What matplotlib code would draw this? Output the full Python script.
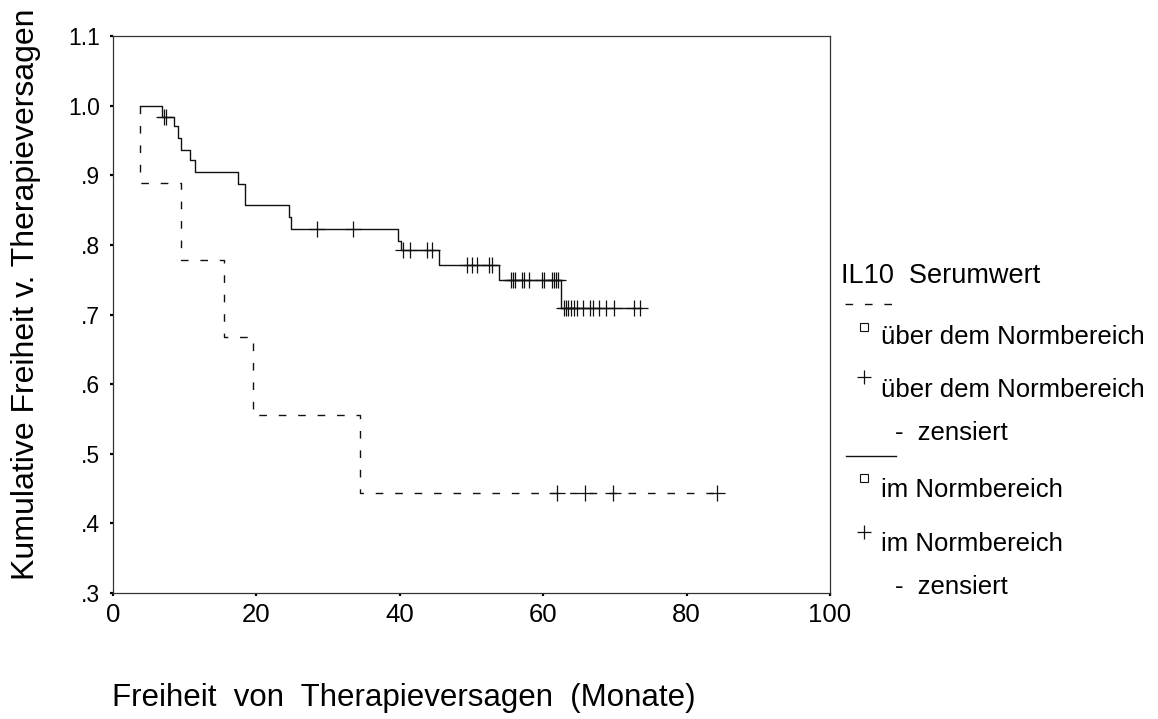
import numpy as np
import matplotlib
matplotlib.use("Agg")
import matplotlib.pyplot as plt
from matplotlib.lines import Line2D

plt.rcParams['font.family'] = ['Liberation Sans', 'DejaVu Sans']

# IL10 im Normbereich (solid): start, drop times, step values, censored times/levels
norm_start = 3.8
norm_drop_t = [6.8, 8.5, 9.1, 9.5, 10.8, 11.5, 17.5, 18.4, 24.5, 24.8,
               39.8, 40.1, 45.5, 53.8, 62.5]
norm_surv = [1.0, 0.984, 0.971, 0.953, 0.936, 0.922, 0.905, 0.888, 0.857,
             0.840, 0.823, 0.805, 0.792, 0.771, 0.750, 0.709]
norm_cens_t = [7.1, 7.4, 28.5, 33.5, 40.5, 41.4, 43.8, 44.5,
               49.4, 50.1, 50.8, 52.5, 52.8,
               55.5, 55.8, 56.1, 57.0, 57.3, 58.0, 59.8, 60.1, 61.2, 61.5, 61.8, 62.1,
               62.9, 63.2, 63.5, 63.9, 64.3, 64.7, 65.6, 66.5, 67.0, 67.8, 68.8,
               69.9, 72.6, 73.5]
norm_cens_s = [0.984, 0.984, 0.823, 0.823, 0.792, 0.792, 0.792, 0.792,
               0.771, 0.771, 0.771, 0.771, 0.771,
               0.750, 0.750, 0.750, 0.750, 0.750, 0.750, 0.750, 0.750, 0.750, 0.750, 0.750, 0.750,
               0.709, 0.709, 0.709, 0.709, 0.709, 0.709, 0.709, 0.709, 0.709, 0.709, 0.709,
               0.709, 0.709, 0.709]

# IL10 ueber dem Normbereich (dashed)
high_start = 3.8
high_drop_t = [3.8, 9.5, 15.5, 19.5, 34.4]
high_surv = [1.0, 0.889, 0.778, 0.667, 0.556, 0.444]
high_cens_t = [61.9, 65.8, 69.8, 84.2]
high_cens_s = [0.444, 0.444, 0.444, 0.444]

yticks = [0.3, 0.4, 0.5, 0.6, 0.7, 0.8, 0.9, 1.0, 1.1]
ytick_labels = ['.3', '.4', '.5', '.6', '.7', '.8', '.9', '1.0', '1.1']
xticks = [0, 20, 40, 60, 80, 100]

W, H = 1158, 719
fig = plt.figure(figsize=(W / 100, H / 100), dpi=100)
ax = fig.add_axes([113 / W, 1 - 593 / H, (830 - 113) / W, (593 - 36) / H])

DASH = (5.5, 8.5)
col = '#111111'

# solid curve
xs = [norm_start] + norm_drop_t + [norm_cens_t[-1]]
ys = norm_surv + [norm_surv[-1]]
ax.step(xs, ys, where='post', color=col, lw=1.0)
ax.plot(norm_cens_t, norm_cens_s, ls='none', marker='+', ms=11, mew=0.9, color=col)

# dashed curve
xs = [high_start] + high_drop_t + [high_cens_t[-1]]
ys = high_surv + [high_surv[-1]]
ax.step(xs, ys, where='post', color=col, lw=1.0, ls=(0, DASH))
ax.plot(high_cens_t, high_cens_s, ls='none', marker='+', ms=11, mew=0.9, color=col)

ax.set_xlim(0, 100)
ax.set_ylim(0.3, 1.1)
ax.set_xticks(xticks)
ax.set_xticklabels([str(v) for v in xticks])
ax.set_yticks(yticks)
ax.set_yticklabels(ytick_labels)
ax.tick_params(direction='out', length=2.5, width=1.6, color='black')
ax.tick_params(axis='y', pad=7, labelsize=16.5)
ax.tick_params(axis='x', pad=5, labelsize=18.5)
for s in ax.spines.values():
    s.set_linewidth(0.9)
    s.set_color('#333333')


def fx(px):
    return px / W


def fy(py):
    return 1 - py / H


fig.text(fx(26), fy(294), 'Kumulative Freiheit v. Therapieversagen', rotation=90,
         ha='center', va='center', fontsize=23)
fig.text(fx(112), fy(706), 'Freiheit  von  Therapieversagen  (Monate)',
         ha='left', va='baseline', fontsize=22.5)

# legend drawn by hand
fig.text(fx(841), fy(283), 'IL10  Serumwert', ha='left', va='baseline', fontsize=19.5)
fig.add_artist(Line2D([fx(845), fx(892)], [fy(304), fy(304)], transform=fig.transFigure,
                      color=col, lw=1.0, ls=(0, DASH)))
fig.add_artist(Line2D([fx(846), fx(896)], [fy(455.5), fy(455.5)], transform=fig.transFigure,
                      color=col, lw=1.0))

entries = [
    ('s', 327, 'über dem Normbereich', 344),
    ('+', 377, 'über dem Normbereich', 397),
    (None, None, '-  zensiert', 440),
    ('s', 478, 'im Normbereich', 497),
    ('+', 532, 'im Normbereich', 551),
    (None, None, '-  zensiert', 594),
]
for mk, my, label, base in entries:
    if mk == 's':
        fig.add_artist(Line2D([fx(864)], [fy(my)], transform=fig.transFigure, marker='s',
                              ms=6, mfc='none', mec=col, mew=0.8, ls='none'))
    elif mk == '+':
        fig.add_artist(Line2D([fx(864)], [fy(my)], transform=fig.transFigure, marker='+',
                              ms=10, mew=0.9, color=col, ls='none'))
    x0 = 881 if mk else 895
    fig.text(fx(x0), fy(base), label, ha='left', va='baseline', fontsize=18.5)

fig.savefig('out.png', dpi=100)
